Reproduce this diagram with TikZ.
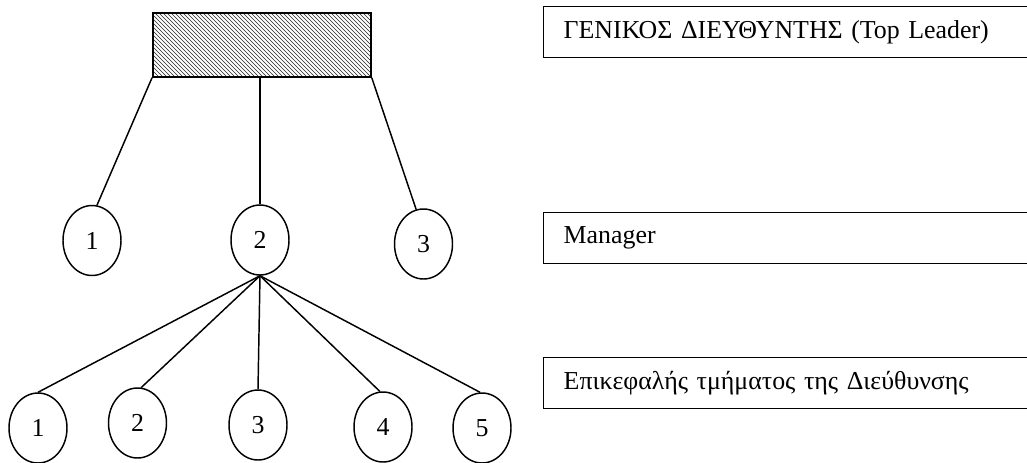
\documentclass[tikz,border=0pt]{standalone}
\usepackage{fontspec}
\setmainfont{Liberation Serif}
\usetikzlibrary{shapes.geometric,patterns}
\begin{document}
\begin{tikzpicture}[x=0.75pt,y=-0.75pt,
  every node/.style={font=\fontsize{19.4}{22}\selectfont},
  conn/.style={line width=1.1pt},
  oval/.style={draw,line width=1.1pt,ellipse,inner sep=0pt,minimum width=43.5pt,minimum height=52.5pt},
  lvlbox/.style={draw,line width=1.1pt,anchor=north west,inner xsep=15pt,inner ysep=0pt,
     text width=345pt,align=left,minimum height=38.25pt},
  topbox/.style={draw,line width=1.1pt,pattern=north west lines,pattern color=black!85,minimum width=163.7pt,minimum height=48pt,inner sep=0pt}]
\useasboundingbox (0,0) rectangle (1027,462);
\clip (0,0) rectangle (1027,462);
% top leader box
\node[topbox] (top) at (261.9,45) {};
% managers
\node[oval] (m1) at (92,240.5) {1};
\node[oval] (m2) at (260,240) {2};
\node[oval] (m3) at (423.5,244) {3};
% heads of department
\node[oval] (h1) at (38,428) {1};
\node[oval] (h2) at (137.5,423) {2};
\node[oval] (h3) at (258,425) {3};
\node[oval] (h4) at (383,427) {4};
\node[oval] (h5) at (482,428) {5};
% legend boxes
\node[lvlbox] (l1) at (543,6) {ΓΕΝΙΚΟΣ ΔΙΕΥΘΥΝΤΗΣ (Top Leader)};
\node[lvlbox] (l2) at (543,212) {Manager};
\node[lvlbox] (l3) at (543,357) {Επικεφαλής τμήματος της Διεύθυνσης};
% connectors
\draw[conn] (top.south west) -- (m1.82);
\draw[conn] (top.south -| m2.north) -- (m2.north);
\draw[conn] (top.south east) -- (m3.102);
\draw[conn] (m2.south) -- (h1.north);
\draw[conn] (m2.south) -- (h2.84);
\draw[conn] (m2.south) -- (h3.north);
\draw[conn] (m2.south) -- (h4.95);
\draw[conn] (m2.south) -- (h5.93);
\end{tikzpicture}
\end{document}
